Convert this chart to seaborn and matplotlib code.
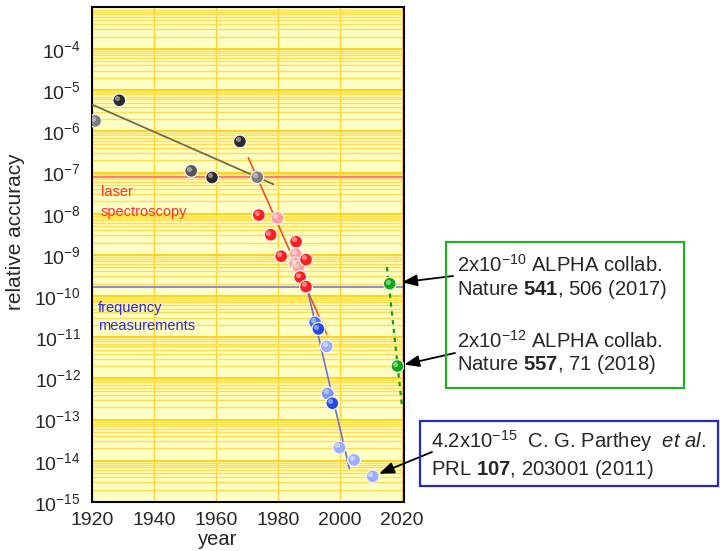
import numpy as np
import pandas as pd
import matplotlib
matplotlib.use("Agg")
import matplotlib.pyplot as plt
from matplotlib.ticker import LogLocator, NullFormatter
from matplotlib.patches import Rectangle
from matplotlib.transforms import ScaledTranslation
import seaborn as sns

sns.set_style("white")
plt.rcParams['font.family'] = ['Liberation Sans', 'DejaVu Sans']
plt.rcParams['mathtext.fontset'] = 'custom'
plt.rcParams['mathtext.rm'] = 'Liberation Sans'
plt.rcParams['mathtext.it'] = 'Liberation Sans:italic'
plt.rcParams['mathtext.bf'] = 'Liberation Sans:bold'

# ---------------- data ----------------
gray_years = [1921, 1928.8, 1952, 1958.7, 1967.7, 1973.3]
gray_acc = [1.8e-6, 5.7e-6, 1.1e-7, 7.6e-8, 5.7e-7, 7.7e-8]
gray_shade = ['gray', 'black', 'dgray', 'black', 'black', 'gray']

red_years = [1973.8, 1979.8, 1977.6, 1985.8, 1981.0, 1985.7, 1985.5, 1986.6, 1989.0, 1987.1, 1989.0]
red_acc = [9.3e-9, 7.9e-9, 3.1e-9, 2.1e-9, 9.3e-10, 1.05e-9, 6.2e-10, 5.1e-10, 7.7e-10, 2.9e-10, 1.7e-10]
red_shade = ['red', 'pink', 'red', 'red', 'red', 'pink', 'pink', 'pink', 'red', 'red', 'red']

blue_years = [1991.9, 1993.0, 1995.7, 1996.0, 1997.5, 1999.8, 2004.5, 2010.5]
blue_acc = [2.3e-11, 1.6e-11, 6e-12, 4.3e-13, 2.5e-13, 2.1e-14, 1.05e-14, 4.2e-15]
blue_shade = ['bmid', 'bdark', 'blight', 'bmid2', 'bdark', 'blight', 'blight', 'blight']

green_years = [2016.0, 2018.5]
green_acc = [2e-10, 2e-12]
green_shade = ['green', 'green']

gray_fit_years = [1920, 1978.5]
gray_fit_acc = [4.5e-6, 5.2e-8]
red_fit_years = [1970.4, 1995.7]
red_fit_acc = [2.3e-7, 1.2e-11]
blue_fit_years = [1989.2, 2003.0]
blue_fit_acc = [1.75e-10, 6.4e-15]
green_fit_years = [2015.1, 2019.9]
green_fit_acc = [5.1e-10, 2.3e-13]

laser_level = 8e-8
freq_level = 1.7e-10

x_ticks = [1920, 1940, 1960, 1980, 2000, 2020]
y_exponents = list(range(-15, -3))

palette = {
    'black': '#2a2a2a', 'gray': '#7c7c7c', 'dgray': '#555555',
    'red': '#ff1c1c', 'pink': '#ff9c9c',
    'bdark': '#2248e6', 'bmid': '#4a70f2', 'bmid2': '#7894f8', 'blight': '#9aaeff',
    'green': '#12a812',
}

pts = pd.DataFrame({
    'year': gray_years + red_years + blue_years + green_years,
    'acc': gray_acc + red_acc + blue_acc + green_acc,
    'shade': gray_shade + red_shade + blue_shade + green_shade,
})

# ---------------- figure ----------------
W, H = 720, 551
fig = plt.figure(figsize=(W / 100, H / 100), dpi=100)
ax = fig.add_axes([92 / W, 1 - 502 / H, 312 / W, 495 / H])
ax.set_facecolor('#ffffc6')
ax.set_yscale('log')
ax.set_xlim(1920, 2020.6)
ax.set_ylim(1e-15, 1.05e-3)

ax.set_xticks(x_ticks)
ax.set_yticks([10.0 ** k for k in y_exponents])
ax.yaxis.set_minor_locator(LogLocator(base=10, subs=np.arange(2, 10), numticks=200))
ax.yaxis.set_minor_formatter(NullFormatter())

ax.grid(which='minor', axis='y', color='#ffdc50', lw=1.0, zorder=0)
ax.grid(which='major', axis='y', color='#ffd21e', lw=1.5, zorder=0)
ax.grid(which='major', axis='x', color='#ffd232', lw=1.0, zorder=0)
ax.set_axisbelow(True)

ax.axhline(laser_level, color='#ff7a7a', lw=1.5, zorder=2)
ax.axhline(freq_level, color='#8c8ce0', lw=1.5, zorder=2)

sns.lineplot(x=gray_fit_years, y=gray_fit_acc, color='#6c6c52', lw=1.3, ax=ax, zorder=3)
sns.lineplot(x=red_fit_years, y=red_fit_acc, color='#f0502e', lw=1.2, ax=ax, zorder=3)
sns.lineplot(x=blue_fit_years, y=blue_fit_acc, color='#6e6ed0', lw=1.2, ax=ax, zorder=3)
sns.lineplot(x=green_fit_years, y=green_fit_acc, color='#10a010', lw=1.6,
             linestyle=(0, (2, 2)), ax=ax, zorder=3)

sns.scatterplot(data=pts, x='year', y='acc', hue='shade', palette=palette,
                s=85, edgecolor='#f4f4f4', linewidth=0.9, legend=False, ax=ax, zorder=5)
# small specular highlight to suggest the shaded spheres
hl = ax.transData + ScaledTranslation(-2.2 / 100, 2.2 / 100, fig.dpi_scale_trans)
sns.scatterplot(data=pts, x='year', y='acc', color='white', s=14, alpha=0.45,
                linewidth=0, legend=False, ax=ax, zorder=6, transform=hl)

for sp in ax.spines.values():
    sp.set_color('black')
    sp.set_linewidth(1.5)

ax.tick_params(axis='x', which='major', direction='inout', length=9, width=2.2,
               labelsize=14, pad=3, color='black')
ax.tick_params(axis='y', which='major', direction='out', length=4, width=1,
               labelsize=14, pad=4, color='black')
ax.tick_params(axis='y', which='minor', length=0)

ax.set_xlabel('year', fontsize=14.5)
ax.set_ylabel('relative accuracy', fontsize=15)
ax.xaxis.set_label_coords(0.404, -0.057)
ax.yaxis.set_label_coords(-0.215, 0.547)


def fx(px):
    return px / W


def fy(py):
    return 1 - py / H


# region labels
fig.text(fx(101), fy(192), 'laser', color='#ff3030', fontsize=10.5, va='center')
fig.text(fx(101), fy(211.5), 'spectroscopy', color='#ff3030', fontsize=10.5, va='center')
fig.text(fx(98), fy(308), 'frequency', color='#2a2ae0', fontsize=10.5, va='center')
fig.text(fx(98), fy(326), 'measurements', color='#2a2ae0', fontsize=10.5, va='center')

# boxes
fig.add_artist(Rectangle((fx(446), fy(388)), (684 - 446) / W, (388 - 242) / H,
                         transform=fig.transFigure, fill=False, ec='#22b022', lw=1.6))
fig.add_artist(Rectangle((fx(420), fy(486)), (718 - 420) / W, (486 - 421) / H,
                         transform=fig.transFigure, fill=False, ec='#2828c8', lw=1.6))

bs = 14.6
fig.text(fx(457), fy(272), r'2x10$^{-10}$ ALPHA collab.', fontsize=bs, va='baseline')
fig.text(fx(457), fy(295), r'Nature $\mathbf{541}$, 506 (2017)', fontsize=bs, va='baseline')
fig.text(fx(457), fy(347.5), r'2x10$^{-12}$ ALPHA collab.', fontsize=bs, va='baseline')
fig.text(fx(457), fy(370.5), r'Nature $\mathbf{557}$, 71 (2018)', fontsize=bs, va='baseline')
fig.text(fx(431), fy(448), r'4.2x10$^{-15}$  C. G. Parthey  $\mathit{et\ al.}$', fontsize=bs, va='baseline')
fig.text(fx(431), fy(475), r'PRL $\mathbf{107}$, 203001 (2011)', fontsize=bs, va='baseline')

# arrows
arrow_kw = dict(arrowstyle='-|>,head_length=0.9,head_width=0.35', color='black',
                lw=1.3, mutation_scale=10, shrinkA=0)
ax.annotate('', xy=(green_years[0], green_acc[0]), xytext=(453, H - 276),
            textcoords='figure pixels', annotation_clip=False,
            arrowprops=dict(arrow_kw, shrinkB=9))
ax.annotate('', xy=(green_years[1], green_acc[1]), xytext=(455, H - 353),
            textcoords='figure pixels', annotation_clip=False,
            arrowprops=dict(arrow_kw, shrinkB=5))
ax.annotate('', xy=(blue_years[-1], blue_acc[-1]), xytext=(432, H - 452),
            textcoords='figure pixels', annotation_clip=False,
            arrowprops=dict(arrow_kw, shrinkB=5))

fig.savefig('out.png', dpi=100)
